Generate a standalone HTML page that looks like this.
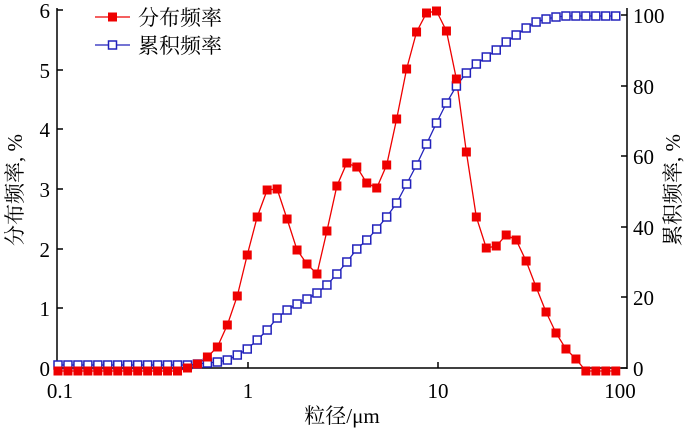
<!DOCTYPE html>
<html><head><meta charset="utf-8"><style>body{margin:0;background:#fff}svg{display:block}</style></head><body>
<svg width="700" height="433" xmlns="http://www.w3.org/2000/svg" font-family="Liberation Serif, Noto Serif CJK SC, serif">
<g stroke="#000" stroke-width="1.5" fill="none">
<line x1="57" y1="8" x2="57" y2="369"/>
<line x1="627" y1="8" x2="627" y2="369"/>
<line x1="57" y1="368" x2="627" y2="368"/>
<path d="M57 368h6M57 308h6M57 249h6M57 189h6M57 129h6M57 70h6M57 10h6"/>
<path d="M627 368h-6M627 297h-6M627 227h-6M627 156h-6M627 86h-6M627 15h-6"/>
<path d="M248 368v-6M438 368v-6"/>
</g>
<g font-size="21" text-anchor="end">
<text x="50" y="376">0</text><text x="50" y="316">1</text><text x="50" y="257">2</text><text x="50" y="197">3</text><text x="50" y="137">4</text><text x="50" y="78">5</text><text x="50" y="18">6</text>
</g>
<g font-size="21" text-anchor="start">
<text x="633" y="376">0</text><text x="633" y="305">20</text><text x="633" y="235">40</text><text x="633" y="164">60</text><text x="633" y="94">80</text><text x="633" y="23">100</text>
</g>
<g font-size="21" text-anchor="middle">
<text x="60" y="398">0.1</text><text x="248" y="398">1</text><text x="438" y="398">10</text><text x="620" y="398">100</text>
<text x="342" y="423" font-family="Liberation Serif, Noto Serif CJK SC, serif">粒径/μm</text>
</g>
<text transform="translate(22,190) rotate(-90)" font-size="21" text-anchor="middle">分布频率, %</text>
<text transform="translate(680,190) rotate(-90)" font-size="21" text-anchor="middle">累积频率, %</text>
<g id="series"></g>
<line x1="95" y1="17" x2="130" y2="17" stroke="#e00" stroke-width="1.3"/>
<rect x="108" y="12.5" width="9" height="9" fill="#e00"/>
<text x="138" y="25" font-size="21">分布频率</text>
<line x1="95" y1="45" x2="130" y2="45" stroke="#22b" stroke-width="1.3"/>
<rect x="108.5" y="41" width="8" height="8" fill="#fff" stroke="#22b" stroke-width="1.5"/>
<text x="138" y="53" font-size="21">累积频率</text>
</svg>
<script>
var red=[371,371,371,371,371,371,371,371,371,371,371,371,371,368,364,357,347,325,296,255,217,190,189,219,250,264,274,231,186,163,167,183,188,165,119,69,32,13,11,31,79,152,217,248,246,235,240,261,287,312,333,349,359,371,371,371,371];
var blue=[365,365,365,365,365,365,365,365,365,365,365,365,365,365,364,363,362,360,355,349,340,330,318,310,304,299,293,285,274,262,249,240,229,217,203,184,165,144,123,103,86,73,64,57,50,42,35,28,22,19,17,16,16,16,16,16,16];
var ns="http://www.w3.org/2000/svg",g=document.getElementById('series');
function X(i){return 58+i*9.96}
function poly(d,c){var p=document.createElementNS(ns,'polyline');p.setAttribute('points',d.map(function(y,i){return X(i)+','+y}).join(' '));p.setAttribute('fill','none');p.setAttribute('stroke',c);p.setAttribute('stroke-width','1.3');g.appendChild(p);}
poly(blue,'#22b');poly(red,'#e00');
blue.forEach(function(y,i){var r=document.createElementNS(ns,'rect');r.setAttribute('x',X(i)-4);r.setAttribute('y',y-4);r.setAttribute('width',8);r.setAttribute('height',8);r.setAttribute('fill','#fff');r.setAttribute('stroke','#22b');r.setAttribute('stroke-width','1.5');g.appendChild(r);});
red.forEach(function(y,i){var r=document.createElementNS(ns,'rect');r.setAttribute('x',X(i)-4.5);r.setAttribute('y',y-4.5);r.setAttribute('width',9);r.setAttribute('height',9);r.setAttribute('fill','#e00');g.appendChild(r);});
</script>
</body></html>
